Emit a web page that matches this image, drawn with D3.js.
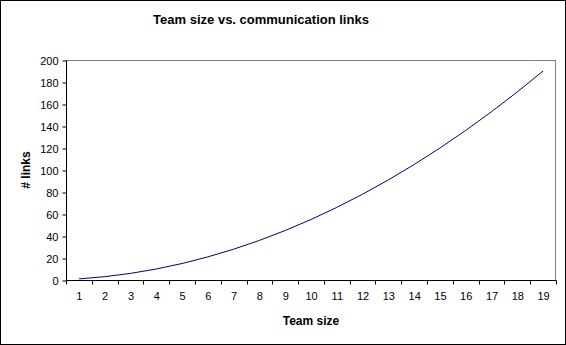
<!DOCTYPE html>
<html lang="en">
<head>
  <meta charset="UTF-8" />
  <title>Team size vs. communication links</title>
  <script src="https://cdn.jsdelivr.net/npm/d3@7"></script>
  <style>
    body { margin: 0; background: #fff; }
    text { font-family: Arial, "Liberation Sans", sans-serif; }
  </style>
</head>
<body>
<script>
  const teamSizes = ["1","2","3","4","5","6","7","8","9","10","11","12","13","14","15","16","17","18","19"];
  const links = [1, 3, 6, 10, 15, 21, 28, 36, 45, 55, 66, 78, 91, 105, 120, 136, 153, 171, 190];
  const yTicks = [0, 20, 40, 60, 80, 100, 120, 140, 160, 180, 200];

  const W = 566, H = 345;
  const plot = { left: 66, right: 556, top: 60, bottom: 280 };

  const svg = d3.select("body").append("svg").attr("width", W).attr("height", H);

  svg.append("rect")
    .attr("x", 0.5).attr("y", 0.5).attr("width", W - 1).attr("height", H - 1)
    .attr("fill", "#fff").attr("stroke", "#000");

  const x = d3.scaleBand().domain(teamSizes).range([plot.left, plot.right]);
  const y = d3.scaleLinear().domain([0, 200]).range([plot.bottom, plot.top]);

  // plot area border (gray)
  svg.append("rect")
    .attr("x", plot.left + 0.5).attr("y", plot.top + 0.5)
    .attr("width", plot.right - plot.left - 1).attr("height", plot.bottom - plot.top)
    .attr("fill", "none").attr("stroke", "#808080");

  // y axis
  const yAxis = svg.append("g")
    .attr("transform", `translate(${plot.left + 0.5},0.5)`)
    .call(d3.axisLeft(y).tickValues(yTicks).tickSize(4).tickPadding(4));
  yAxis.selectAll("path,line").attr("stroke", "#000");
  yAxis.selectAll("text").attr("font-size", 11).attr("fill", "#000")
    .attr("font-family", "Arial, 'Liberation Sans', sans-serif");
  yAxis.select(".domain").attr("d", `M0,${plot.top}V${plot.bottom}`);

  // x axis
  const xAxis = svg.append("g")
    .attr("transform", `translate(0.5,${plot.bottom + 0.5})`)
    .call(d3.axisBottom(x).tickSize(0).tickPadding(12));
  xAxis.select(".domain").attr("d", `M${plot.left},0H${plot.right}`).attr("stroke", "#000");
  xAxis.selectAll("text").attr("font-size", 11).attr("fill", "#000")
    .attr("font-family", "Arial, 'Liberation Sans', sans-serif");
  xAxis.selectAll(".edge")
    .data(d3.range(teamSizes.length + 1))
    .enter().append("line")
    .attr("x1", i => Math.round(plot.left + i * x.step()))
    .attr("x2", i => Math.round(plot.left + i * x.step()))
    .attr("y1", 0).attr("y2", 4)
    .attr("stroke", "#000");

  // line
  const line = d3.line()
    .x((d, i) => x(teamSizes[i]) + x.bandwidth() / 2)
    .y(d => y(d));
  svg.append("path")
    .datum(links)
    .attr("d", line)
    .attr("fill", "none")
    .attr("stroke", "#000080")
    .attr("stroke-width", 1);

  // titles
  svg.append("text")
    .attr("x", 261).attr("y", 24)
    .attr("text-anchor", "middle")
    .attr("font-size", 13).attr("font-weight", "bold")
    .text("Team size vs. communication links");

  svg.append("text")
    .attr("x", (plot.left + plot.right) / 2).attr("y", 325)
    .attr("text-anchor", "middle")
    .attr("font-size", 12).attr("font-weight", "bold")
    .text("Team size");

  svg.append("text")
    .attr("transform", `translate(30,${(plot.top + plot.bottom) / 2}) rotate(-90)`)
    .attr("text-anchor", "middle")
    .attr("font-size", 12).attr("font-weight", "bold")
    .text("# links");
</script>
</body>
</html>
